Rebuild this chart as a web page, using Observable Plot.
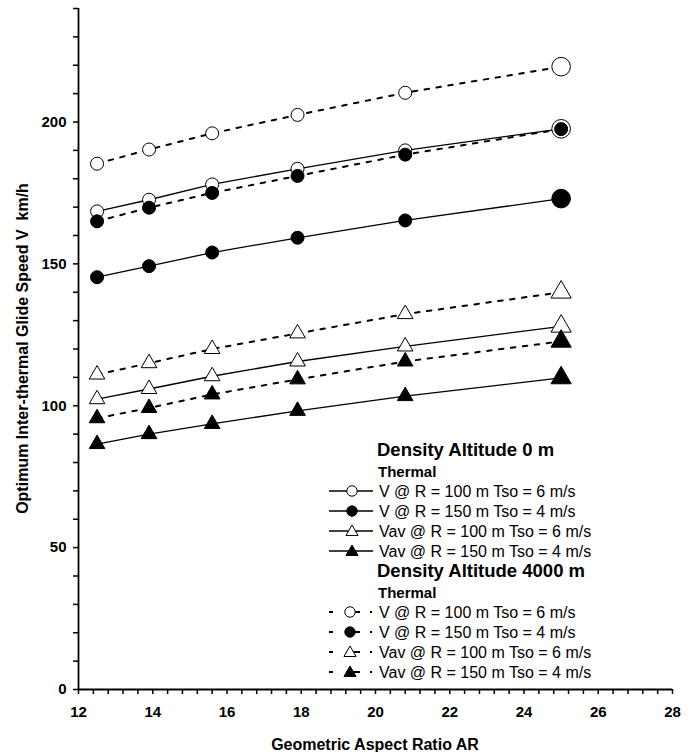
<!DOCTYPE html>
<html>
<head>
<meta charset="utf-8">
<script src="https://cdn.jsdelivr.net/npm/d3@7"></script>
<script src="https://cdn.jsdelivr.net/npm/@observablehq/plot@0.6"></script>
<style>
  html, body { margin: 0; padding: 0; background: #fff; }
  #chart svg { display: block; }
</style>
</head>
<body>
<div id="chart"></div>
<script>
// ---------- data ----------
const aspectRatio = [12.5, 13.9, 15.6, 17.9, 20.8, 25];

// Density altitude 0 m
const v_R100_0m   = [168.5, 172.6, 178.0, 183.5, 190.0, 197.6];
const v_R150_0m   = [145.3, 149.2, 154.0, 159.2, 165.3, 173.0];
const vav_R100_0m = [102.3, 105.9, 110.4, 115.6, 120.9, 128.0];
const vav_R150_0m = [86.5, 90.0, 93.6, 98.2, 103.4, 109.8];

// Density altitude 4000 m
const v_R100_4000m   = [185.3, 190.3, 196.0, 202.5, 210.3, 219.5];
const v_R150_4000m   = [165.0, 169.8, 175.0, 181.0, 188.5, 197.5];
const vav_R100_4000m = [111.0, 115.0, 120.0, 125.5, 132.3, 140.0];
const vav_R150_4000m = [95.6, 99.2, 104.0, 109.3, 115.6, 122.7];

const seriesLabels = [
  "V @ R = 100 m Tso = 6 m/s",
  "V @ R = 150 m Tso = 4 m/s",
  "Vav @ R = 100 m Tso = 6 m/s",
  "Vav @ R = 150 m Tso = 4 m/s"
];
const groupTitles = ["Density Altitude 0 m", "Density Altitude 4000 m"];
const groupSubtitle = "Thermal";

const xTicks = d3.range(30, 71).map(i => i * 4 / 10);   // 12 … 28 every 0.4
const xTickLabels = [12, 14, 16, 18, 20, 22, 24, 26, 28];
const yTicks = d3.range(0, 241, 10);
const yTickLabels = [0, 50, 100, 150, 200];

const xTitle = "Geometric Aspect Ratio AR";
const yTitle = "Optimum Inter-thermal Glide Speed V  km/h";

// ---------- series definitions (style kept separate) ----------
const seriesValues = [
  v_R100_0m, v_R150_0m, vav_R100_0m, vav_R150_0m,
  v_R100_4000m, v_R150_4000m, vav_R100_4000m, vav_R150_4000m
];
const styleOf = i => ({
  dashed: i >= 4,
  symbol: (i % 4) < 2 ? "circle" : "triangle",
  filled: (i % 2) === 1,
  bigLast: i !== 5
});

const rows = [];
seriesValues.forEach((vals, i) => {
  vals.forEach((v, j) => rows.push({s: i, ar: aspectRatio[j], v, last: j === vals.length - 1}));
});

const W = 694, H = 752;
const ML = 78, MR = 22, MT = 8, MB = 63;
const FONT = "'Liberation Sans', Arial, sans-serif";

const marks = [];
// lines
seriesValues.forEach((vals, i) => {
  const st = styleOf(i);
  marks.push(Plot.line(rows.filter(d => d.s === i), {
    x: "ar", y: "v", stroke: "#000",
    strokeWidth: st.dashed ? 2 : 1.3,
    strokeDasharray: st.dashed ? "4.5,7.5" : null
  }));
});
// markers
const dotOrder = [0, 1, 4, 5, 2, 3, 6, 7];
dotOrder.forEach(i => {
  const st = styleOf(i);
  const rSmall = st.symbol === "circle" ? 6.5 : 5.8;
  const rBig = st.symbol === "circle" ? 9.3 : 7.5;
  const common = {x: "ar", y: "v", symbol: st.symbol, fill: st.filled ? "#000" : "#fff", stroke: "#000", strokeWidth: 1};
  marks.push(Plot.dot(rows.filter(d => d.s === i && !(d.last && st.bigLast)), {...common, r: rSmall}));
  marks.push(Plot.dot(rows.filter(d => d.s === i && d.last && st.bigLast), {...common, r: rBig}));
});
// axis lines
marks.push(Plot.ruleX([12], {stroke: "#000", strokeWidth: 1.8}));
marks.push(Plot.ruleY([0], {stroke: "#000", strokeWidth: 1.8}));

const chart = Plot.plot({
  width: W, height: H,
  marginLeft: ML, marginRight: MR, marginTop: MT, marginBottom: MB,
  style: {fontFamily: FONT, fontSize: "15px", fontWeight: "bold", color: "#000", background: "#fff"},
  x: {domain: [12, 28], ticks: xTicks, tickFormat: d => xTickLabels.includes(d) ? String(d) : "", tickSize: 5, tickPadding: 12, label: null},
  y: {domain: [0, 240], ticks: yTicks, tickFormat: d => yTickLabels.includes(d) ? String(d) : "", tickSize: 5, tickPadding: 7, label: null},
  marks
});
document.getElementById("chart").appendChild(chart);

// ---------- titles & legend drawn into the same SVG ----------
const svg = d3.select(chart);
svg.selectAll("g[aria-label='x-axis tick'] path, g[aria-label='y-axis tick'] path").attr("stroke-width", 1.5);

svg.append("text")
  .attr("x", (ML + W - MR) / 2).attr("y", 750)
  .attr("text-anchor", "middle")
  .attr("font-family", FONT)
  .attr("font-size", 16).attr("font-weight", "bold").attr("fill", "#000")
  .text(xTitle);

svg.append("text")
  .attr("transform", `translate(27.5,${(MT + H - MB) / 2}) rotate(-90)`)
  .attr("text-anchor", "middle")
  .attr("font-family", FONT)
  .attr("font-size", 16).attr("font-weight", "bold").attr("fill", "#000")
  .text(yTitle);

const lg = svg.append("g")
  .attr("font-family", FONT)
  .attr("text-anchor", "start")
  .attr("font-weight", "normal")
  .attr("fill", "#000");

const groupTop = [455.5, 576.5];
groupTitles.forEach((t, g) => {
  const y0 = groupTop[g];
  lg.append("text").attr("x", 377).attr("y", y0)
    .attr("text-anchor", "start")
    .attr("font-size", 18.5).attr("font-weight", "bold").text(t);
  lg.append("text").attr("x", 378).attr("y", y0 + 21)
    .attr("text-anchor", "start")
    .attr("font-size", 15).attr("font-weight", "bold").text(groupSubtitle);
  seriesLabels.forEach((lab, k) => {
    const i = g * 4 + k;
    const st = styleOf(i);
    const cy = y0 + 35.5 + k * 20;
    lg.append("line")
      .attr("x1", 329).attr("x2", st.dashed ? 372 : 373)
      .attr("y1", cy).attr("y2", cy)
      .attr("stroke", "#000").attr("stroke-width", st.dashed ? 2 : 1.3)
      .attr("stroke-dasharray", st.dashed ? "4,13,14,10,2" : null);
    const size = st.symbol === "circle" ? Math.PI * 5.2 * 5.2 : Math.PI * 4.5 * 4.5;
    lg.append("path")
      .attr("transform", `translate(${st.dashed ? 350 : 352},${cy + (st.symbol === "triangle" ? 1 : 0)})`)
      .attr("d", d3.symbol(st.symbol === "circle" ? d3.symbolCircle : d3.symbolTriangle, size)())
      .attr("fill", st.filled ? "#000" : "#fff")
      .attr("stroke", "#000").attr("stroke-width", 1);
    lg.append("text").attr("x", 379).attr("y", cy + 5.7)
      .attr("text-anchor", "start").attr("font-weight", "normal")
      .attr("font-size", 16).text(lab);
  });
});
</script>
</body>
</html>
